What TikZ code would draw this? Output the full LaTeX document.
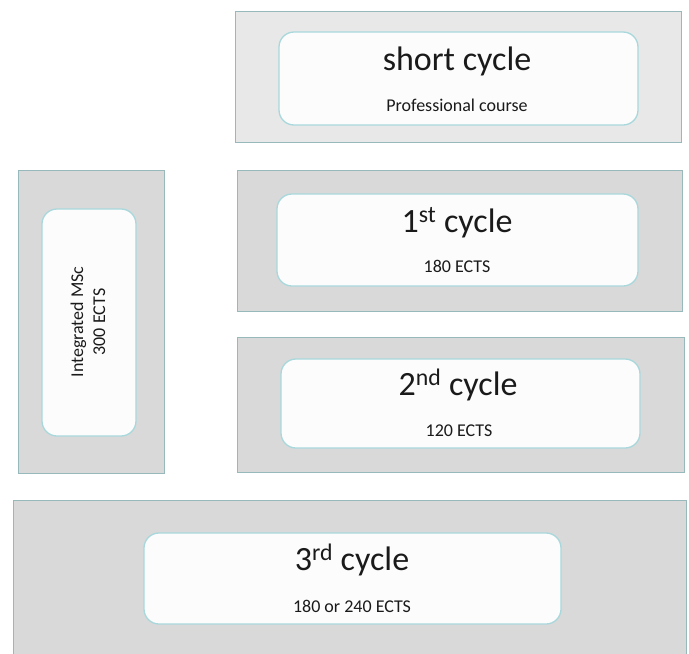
\documentclass[tikz,border=0pt]{standalone}
\usepackage{fontspec}
\setmainfont{Carlito}
\definecolor{outerfill}{HTML}{D9D9D9}
\definecolor{outerfilltop}{HTML}{E8E8E8}
\definecolor{outerline}{HTML}{97B9BC}
\definecolor{innerfill}{HTML}{FCFCFC}
\definecolor{innerline}{HTML}{A9D8DC}
\definecolor{txt}{HTML}{1A1A1A}
\begin{document}
\begin{tikzpicture}[x=1pt,y=-1pt,
  panel/.style={draw=outerline, fill=outerfill, line width=0.9pt, inner sep=0pt, outer sep=0pt},
  card/.style={draw=innerline, fill=innerfill, line width=1.3pt, rounded corners=15pt, inner sep=0pt, outer sep=0pt},
  title/.style={anchor=base, inner sep=0pt, text=txt, font=\fontsize{34}{40}\selectfont},
  sub/.style={anchor=base, inner sep=0pt, text=txt, font=\fontsize{18}{22}\selectfont}]
\useasboundingbox (0,0) rectangle (689,654);
\clip (0,0) rectangle (689,654);
% short cycle
\node[panel, fill=outerfilltop, minimum width=446pt, minimum height=131pt] (p0) at (458,76.5) {};
\node[card, minimum width=359pt, minimum height=93pt] (c0) at (458.5,78.5) {};
\node[title] (t0) at (457,70) {short cycle};
\node[sub] (s0) at (457,111) {Professional course};
% 1st cycle
\node[panel, minimum width=445pt, minimum height=141pt] (p1) at (459.5,240.5) {};
\node[card, minimum width=361pt, minimum height=92pt] (c1) at (457.5,240) {};
\node[title] (t1) at (457,232) {1\textsuperscript{st} cycle};
\node[sub] (s1) at (457,272) {180 ECTS};
% 2nd cycle
\node[panel, minimum width=447pt, minimum height=135pt] (p2) at (460.5,404.5) {};
\node[card, minimum width=359pt, minimum height=89pt] (c2) at (460.5,403.5) {};
\node[title] (t2) at (458,395) {2\textsuperscript{nd} cycle};
\node[sub] (s2) at (459,436) {120 ECTS};
% integrated
\node[panel, minimum width=146pt, minimum height=303pt] (pi) at (91,321.5) {};
\node[card, minimum width=94pt, minimum height=227pt] (ci) at (89,322.5) {};
\node[rotate=90, align=center, inner sep=0pt, text=txt, font=\fontsize{18}{22}\selectfont] (ti) at (88,322) {Integrated MSc\\300 ECTS};
% 3rd cycle
\node[panel, minimum width=673pt, minimum height=160pt] (p3) at (349.5,580) {};
\node[card, minimum width=417pt, minimum height=91pt] (c3) at (352.5,578.5) {};
\node[title] (t3) at (352,570) {3\textsuperscript{rd} cycle};
\node[sub] (s3) at (352,612) {180 or 240 ECTS};
\end{tikzpicture}
\end{document}
